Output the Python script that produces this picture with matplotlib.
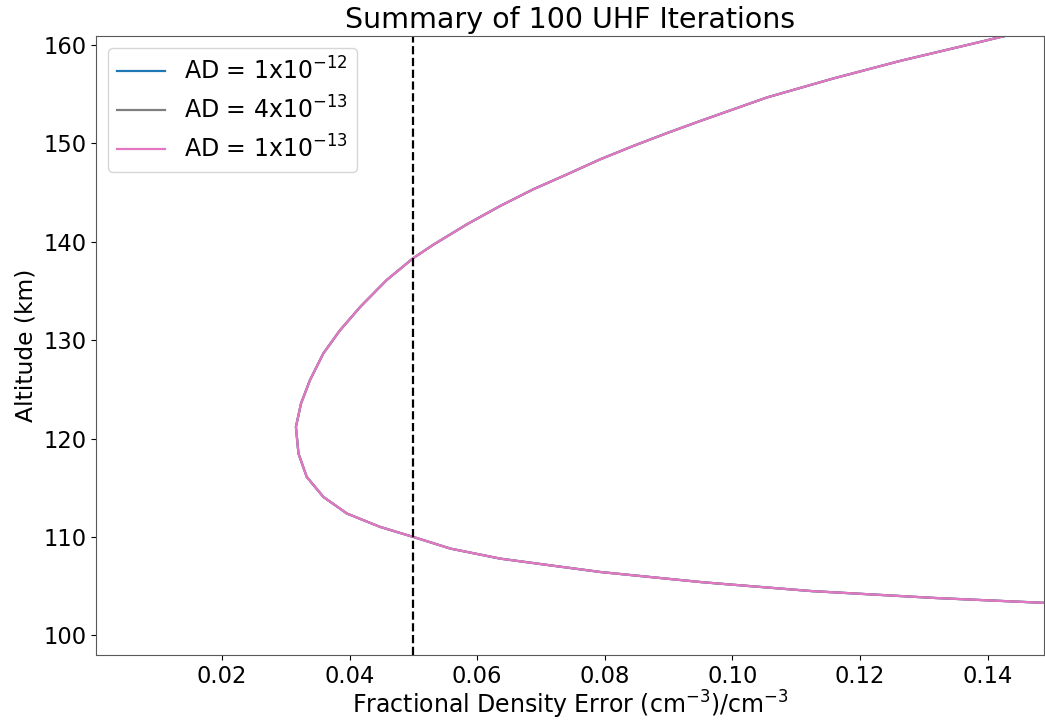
import matplotlib
matplotlib.use("Agg")
import matplotlib.pyplot as plt

# altitudine (km) e errore frazionario
altitude = [103.0, 103.3, 103.8, 104.5, 105.25, 105.42, 105.93, 106.44, 107.12,
            107.8, 108.82, 110.0, 111.02, 112.38, 114.07, 116.1, 118.48, 121.19,
            123.57, 125.94, 128.66, 131.0, 133.4, 136.1, 138.35, 139.73, 141.78,
            143.64, 145.34, 146.86, 148.39, 149.75, 151.04, 152.29, 154.67, 156.6,
            158.39, 159.99, 160.92, 161.5]
err_1e12 = [0.156, 0.149, 0.1317, 0.1124, 0.0981, 0.0950, 0.0871, 0.0793, 0.0714,
            0.0636, 0.0558, 0.0500, 0.0448, 0.0396, 0.0359, 0.0333, 0.0320, 0.0316,
            0.0324, 0.0338, 0.0359, 0.0385, 0.0417, 0.0458, 0.0500, 0.0532, 0.0584,
            0.0636, 0.0688, 0.0741, 0.0793, 0.0845, 0.0897, 0.0950, 0.1054, 0.1158,
            0.1263, 0.1367, 0.1427, 0.147]
err_4e13 = list(err_1e12)
err_1e13 = list(err_1e12)

labels = ["AD = 1x10$^{-12}$", "AD = 4x10$^{-13}$", "AD = 1x10$^{-13}$"]
colors = ["tab:blue", "tab:gray", "tab:pink"]
threshold = 0.05

fig, ax = plt.subplots(figsize=(10.45, 7.23), dpi=100)
fig.subplots_adjust(left=0.092, right=0.999, top=0.950, bottom=0.094)

for err, lab, col in zip([err_1e12, err_4e13, err_1e13], labels, colors):
    ax.plot(err, altitude, color=col, label=lab, linewidth=1.6)

ax.axvline(threshold, color="black", linestyle="--", linewidth=1.6)

ax.set_xlim(0.0003, 0.1488)
ax.set_ylim(98.0, 160.9)
ax.set_xticks([0.02, 0.04, 0.06, 0.08, 0.10, 0.12, 0.14])
ax.set_yticks([100, 110, 120, 130, 140, 150, 160])
ax.tick_params(labelsize=16.3)

for sp in ax.spines.values():
    sp.set_color("0.35")

ax.set_title("Summary of 100 UHF Iterations", fontsize=20.5)
ax.set_xlabel("Fractional Density Error (cm$^{-3}$)/cm$^{-3}$", fontsize=17, labelpad=1)
ax.set_ylabel("Altitude (km)", fontsize=16.8)
ax.legend(loc="upper left", fontsize=17)

fig.savefig("out.png", dpi=100)
